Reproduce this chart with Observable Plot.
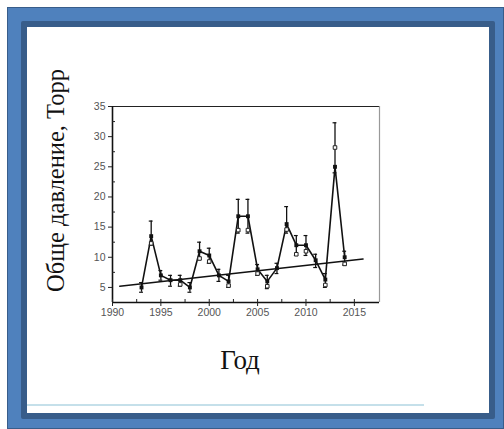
<!DOCTYPE html>
<html><head><meta charset="utf-8">
<script src="https://cdn.jsdelivr.net/npm/d3@7"></script>
<script src="https://cdn.jsdelivr.net/npm/@observablehq/plot@0.6"></script>
<style>
html,body{margin:0;padding:0;background:#fff;}
#outer{position:absolute;left:7px;top:7px;width:495px;height:420px;background:#4f81bd;border:1px solid #385d8a;}
#inner{position:absolute;left:21px;top:21px;width:462px;height:386px;background:#fff;border:6px solid #385d8a;border-radius:2px;}
#chart{position:absolute;left:27px;top:27px;}
#hr{position:absolute;left:27px;top:404px;width:397px;height:2px;background:#c5e0ea;}
</style></head>
<body>
<div id="outer"></div>
<div id="inner"></div>
<div id="hr"></div>
<div id="chart"></div>
<script>
const years  = [1993,1994,1995,1996,1997,1998,1999,2000,2001,2002,2003,2004,2005,2006,2007,2008,2009,2010,2011,2012,2013,2014];
const values = [5.0,13.5,7.0,6.2,6.2,5.0,11.0,10.3,7.0,6.0,16.8,16.8,8.0,6.0,8.2,15.5,12.0,12.0,9.5,6.3,25.0,10.0];
const errLo  = [4.2,12.0,6.2,5.2,5.2,4.2,9.6,9.0,6.0,5.0,14.0,14.0,7.0,4.8,7.3,14.0,10.3,10.3,8.3,5.0,24.0,8.7];
const errHi  = [5.8,16.0,7.8,7.0,7.0,5.8,12.5,11.5,8.0,7.0,19.6,19.6,8.8,7.0,9.0,18.4,13.6,13.6,10.5,7.3,32.3,11.0];
const altVal = [null,12.3,null,null,5.5,null,9.8,9.3,null,5.3,14.5,14.5,7.3,5.2,null,14.6,10.5,11.0,null,5.4,28.2,8.9];
const trendX = [1990.75, 2015.9];
const trendY = [5.2, 9.7];
const yTicks = [5,10,15,20,25,30,35];
const yMinor = [7.5,12.5,17.5,22.5,27.5,32.5];
const xTicks = [1990,1995,2000,2005,2010,2015];
const xMinor = [1992.5,1997.5,2002.5,2007.5,2012.5];
const yLabel = "Обще давление, Торр";
const xLabel = "Год";

const data = years.map((y,i)=>({year:y, v:values[i], lo:errLo[i], hi:errHi[i], alt:altVal[i]}));
const alts = data.filter(d=>d.alt!=null);
const trend = trendX.map((x,i)=>({x, y:trendY[i]}));
const xDom = [1990, 2017.6], yDom = [2.5, 35];
const capW = 0.2;
const serif = "'Liberation Serif', 'Times New Roman', serif";

const chart = Plot.plot({
  width: 462, height: 360,
  marginLeft: 85, marginRight: 110, marginTop: 79, marginBottom: 85,
  style: {background:"transparent", fontFamily:"'Liberation Sans', Arial, sans-serif"},
  x: {domain: xDom},
  y: {domain: yDom},
  marks: [
    // box
    Plot.ruleY([yDom[1]], {stroke:"#222", strokeWidth:1.2}),
    Plot.ruleX([xDom[1]], {stroke:"#999", strokeWidth:1.2}),
    Plot.ruleX([xDom[0]], {stroke:"#111", strokeWidth:1.6}),
    Plot.ruleY([yDom[0]], {stroke:"#111", strokeWidth:1.6}),
    // axes
    Plot.axisY({ticks: yTicks, tickSize: 4, tickPadding: 3, fontSize: 10.5, color:"#555", stroke:"#222", label: null}),
    Plot.axisY({ticks: yMinor, tickSize: 3, dx: 3, text: null, stroke:"#222", label: null}),
    Plot.axisX({ticks: xTicks, tickSize: 7, dy: -3, text: null, stroke:"#222", label: null}),
    Plot.axisX({ticks: xTicks, tickSize: 0, tickPadding: 6, fontSize: 10.5, color:"#555", tickFormat: d=>String(d), label: null}),
    Plot.axisX({ticks: xMinor, tickSize: 3, dy: -3, text: null, stroke:"#222", label: null}),
    // trend
    Plot.line(trend, {x:"x", y:"y", stroke:"#111", strokeWidth:1.5}),
    // error bars
    Plot.ruleX(data, {x:"year", y1:"lo", y2:"hi", stroke:"#111", strokeWidth:1.3}),
    Plot.ruleY(data, {y:"hi", x1:d=>d.year-capW, x2:d=>d.year+capW, stroke:"#111", strokeWidth:1.2}),
    Plot.ruleY(data, {y:"lo", x1:d=>d.year-capW, x2:d=>d.year+capW, stroke:"#111", strokeWidth:1.2}),
    // series line
    Plot.line(data, {x:"year", y:"v", stroke:"#111", strokeWidth:1.6}),
    Plot.dot(data, {x:"year", y:"v", symbol:"square", r:2.2, fill:"#111"}),
    Plot.dot(alts, {x:"year", y:"alt", symbol:"square", r:2, fill:"white", stroke:"#222", strokeWidth:1}),
    // axis titles
    Plot.text([yLabel], {frameAnchor:"left", textAnchor:"middle", lineAnchor:"middle", rotate:-90, dx:-56, dy:-24, fontSize:24.5, fontFamily:serif, fill:"#111"}),
    Plot.text([xLabel], {frameAnchor:"bottom", textAnchor:"middle", lineAnchor:"middle", dx:-6, dy:58, fontSize:27, fontFamily:serif, fill:"#111"})
  ]
});
document.getElementById("chart").appendChild(chart);
</script>
</body></html>
